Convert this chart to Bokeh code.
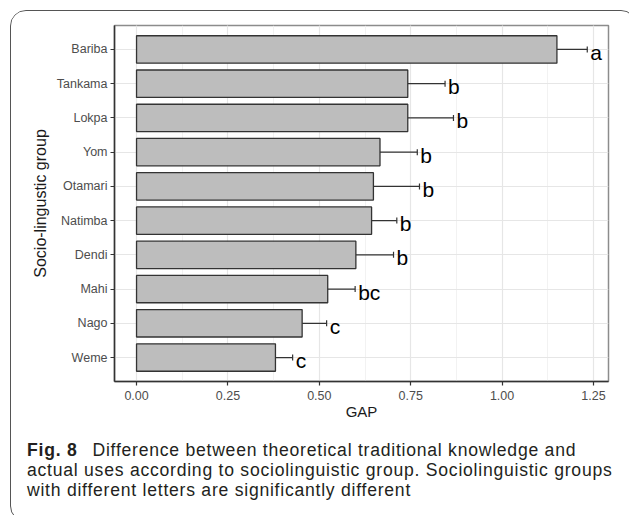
from bokeh.plotting import figure
from bokeh.layouts import column
from bokeh.models import (ColumnDataSource, FactorRange, Range1d, Whisker, TeeHead,
                          SingleIntervalTicker, NumeralTickFormatter, Div)
from bokeh.core.properties import value
from bokeh.embed import file_html
from bokeh.resources import INLINE

# ---- data ----
groups = ["Bariba", "Tankama", "Lokpa", "Yom", "Otamari", "Natimba", "Dendi", "Mahi", "Nago", "Weme"]
gap = [1.150, 0.742, 0.742, 0.666, 0.648, 0.643, 0.600, 0.523, 0.453, 0.380]
se = [0.083, 0.102, 0.125, 0.102, 0.126, 0.069, 0.103, 0.075, 0.067, 0.047]
letters = ["a", "b", "b", "b", "b", "b", "b", "bc", "c", "c"]
caption_bold = "Fig. 8"
caption_lines = [
    "Difference between theoretical traditional knowledge and",
    "actual uses according to sociolinguistic group. Sociolinguistic groups",
    "with different letters are significantly different",
]

upper = [g + s for g, s in zip(gap, se)]
src = ColumnDataSource(dict(group=groups, gap=gap, upper=upper, letter=letters))

FONT = "Liberation Sans"
W = 615
H = 424

p = figure(
    width=W, height=H, title=None,
    y_range=FactorRange(factors=groups[::-1], range_padding=0.2, range_padding_units="absolute"),
    x_range=Range1d(-0.0603, 1.2911),
    output_backend="svg", toolbar_location=None,
    min_border_left=103, min_border_top=14, min_border_right=18, min_border_bottom=54,
)
p.background_fill_color = "white"
p.border_fill_color = "white"
p.outline_line_color = "#8c8c8c"
p.outline_line_width = 1.5

# grids
p.xaxis.ticker = SingleIntervalTicker(interval=0.25, num_minor_ticks=2)
p.xaxis.formatter = NumeralTickFormatter(format="0.00")
p.xgrid.grid_line_color = "#e6e6e6"
p.xgrid.grid_line_width = 1.2
p.xgrid.minor_grid_line_color = "#efefef"
p.xgrid.minor_grid_line_width = 0.8
p.ygrid.grid_line_color = "#e6e6e6"
p.ygrid.grid_line_width = 1.2

# bars
p.hbar(y="group", right="gap", left=0, height=0.8, source=src,
       fill_color="#bdbdbd", line_color="#333333", line_width=1.3)

# error bars (upper only)
wh = Whisker(base="group", lower="gap", upper="upper", dimension="width", source=src,
             line_color="#333333", line_width=1.2,
             upper_head=TeeHead(size=6, line_color="#333333", line_width=1.2),
             lower_head=None)
p.add_layout(wh)

# significance letters
p.text(x="upper", y="group", text="letter", source=src,
       text_font=value(FONT), text_font_size="21px", text_color="black",
       text_baseline="alphabetic", text_align="left", x_offset=3, y_offset=3)

# axes styling
for ax in (p.xaxis[0], p.yaxis[0]):
    ax.axis_line_color = "#333333"
    ax.axis_line_width = 1.5
    ax.major_tick_line_color = "#333333"
    ax.major_tick_line_width = 1.2
    ax.major_tick_out = 4
    ax.major_tick_in = 0
    ax.minor_tick_line_color = None
    ax.major_label_text_font = FONT
    ax.major_label_text_font_size = "12.5px"
    ax.major_label_text_color = "#4d4d4d"
    ax.axis_label_text_font = FONT
    ax.axis_label_text_font_style = "normal"
    ax.axis_label_text_color = "#1a1a1a"

p.xaxis.axis_label = "GAP"
p.xaxis.axis_label_text_font_size = "15px"
p.xaxis.major_label_standoff = 5
p.xaxis.axis_label_standoff = 0
p.yaxis.axis_label = "Socio-lingustic group"
p.yaxis.axis_label_text_font_size = "16px"
p.yaxis.major_label_standoff = 3
p.yaxis.axis_label_standoff = 5

# caption (HTML text)
cap_html = (
    '<div style="padding:0 0 0 11px; line-height:20px; font-size:17.6px; letter-spacing:0.75px; '
    'font-family:\'Liberation Sans\'; color:#231f20; white-space:nowrap;">'
    '<span style="font-weight:bold;">' + caption_bold + '</span>'
    '<span style="display:inline-block; width:15px;"></span>'
    + caption_lines[0] + '<br>' + caption_lines[1] + '<br>' + caption_lines[2] +
    '</div>'
)
cap = Div(text=cap_html, width=W, height=76)

layout = column(p, cap, spacing=0, margin=(10, 0, 0, 10))
layout.styles = {"border": "1.5px solid #555555", "border-radius": "16px", "overflow": "hidden"}

open("out.html", "w").write(file_html(layout, INLINE))
